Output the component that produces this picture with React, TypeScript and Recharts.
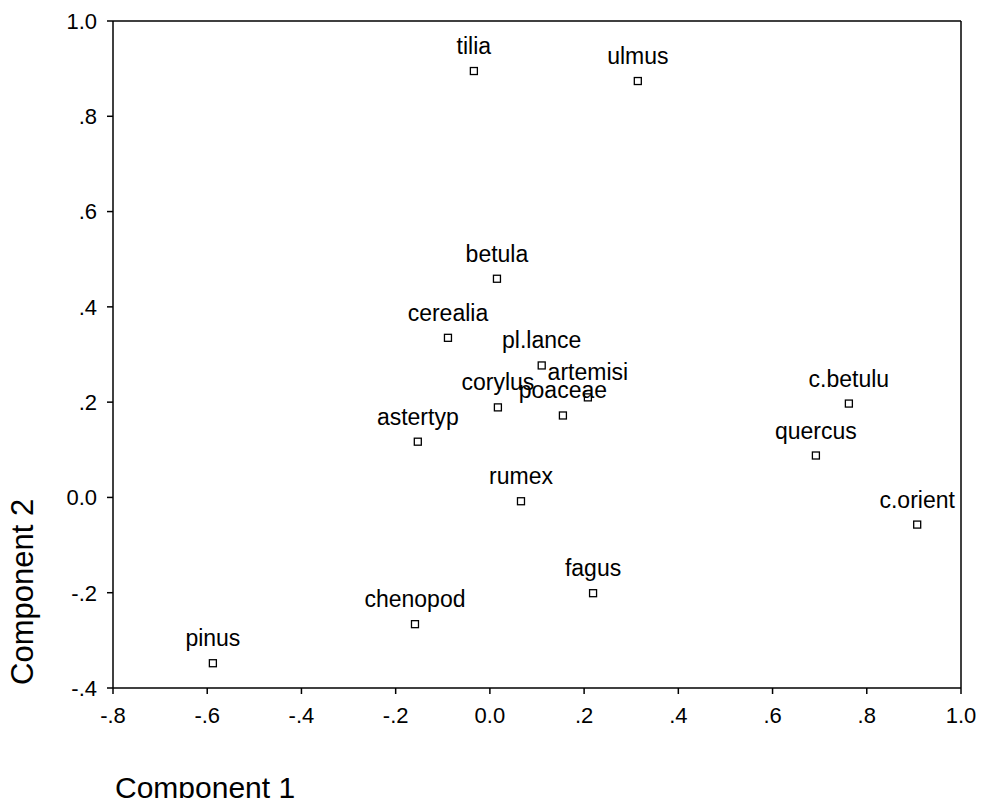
import React from "react";
import { ScatterChart, Scatter, XAxis, YAxis, ReferenceLine } from "recharts";

const names = ["tilia", "ulmus", "betula", "cerealia", "pl.lance", "artemisi", "corylus", "poaceae", "astertyp", "c.betulu", "quercus", "c.orient", "rumex", "fagus", "chenopod", "pinus"];
const comp1 = [-0.034, 0.314, 0.015, -0.089, 0.110, 0.208, 0.017, 0.155, -0.153, 0.762, 0.692, 0.907, 0.066, 0.219, -0.159, -0.588];
const comp2 = [0.895, 0.874, 0.459, 0.335, 0.277, 0.210, 0.189, 0.172, 0.117, 0.197, 0.088, -0.057, -0.008, -0.201, -0.266, -0.348];

const xTicks = [-0.8, -0.6, -0.4, -0.2, 0, 0.2, 0.4, 0.6, 0.8, 1.0];
const yTicks = [-0.4, -0.2, 0, 0.2, 0.4, 0.6, 0.8, 1.0];

const data = names.map((n, i) => ({ name: n, x: comp1[i], y: comp2[i] }));

const FONT = "'Liberation Sans', Arial, sans-serif";

const fmt = (v: number) => {
  const r = Math.round(v * 10) / 10;
  if (r === 0) return "0.0";
  if (r === 1) return "1.0";
  const s = Math.abs(r).toFixed(1).replace(/^0/, "");
  return (r < 0 ? "-" : "") + s;
};

const Marker = (props: any) => {
  const { cx, cy, payload } = props;
  if (cx == null || cy == null) return null;
  return (
    <g>
      <rect x={cx - 3.5} y={cy - 3.5} width={7} height={7} fill="#fff" stroke="#000" strokeWidth={1.3} />
      <text x={cx} y={cy - 17} textAnchor="middle" fontSize={23} fontFamily={FONT} fill="#000">
        {payload.name}
      </text>
    </g>
  );
};

export default function App() {
  return (
    <div style={{ width: 970, height: 790, background: "#fff" }}>
      <ScatterChart width={970} height={790} margin={{ top: 13, right: 17, left: 0, bottom: 0 }}>
        <XAxis
          type="number"
          dataKey="x"
          domain={[-0.8, 1.0]}
          ticks={xTicks}
          tickFormatter={fmt}
          allowDataOverflow
          height={110}
          stroke="#000"
          strokeWidth={1.5}
          tickSize={6}
          tickMargin={13}
          tick={{ fill: "#000", fontSize: 22, fontFamily: FONT }}
          interval={0}
        />
        <YAxis
          type="number"
          dataKey="y"
          domain={[-0.4, 1.0]}
          ticks={yTicks}
          tickFormatter={fmt}
          allowDataOverflow
          width={105}
          stroke="#000"
          strokeWidth={1.5}
          tickSize={6}
          tickMargin={10}
          tick={{ fill: "#000", fontSize: 22, fontFamily: FONT }}
          interval={0}
        />
        <ReferenceLine y={1.0} stroke="#000" strokeWidth={1.5} />
        <ReferenceLine x={1.0} stroke="#000" strokeWidth={1.5} />
        <Scatter data={data} shape={<Marker />} isAnimationActive={false} />
        <text x={107} y={790} fontSize={30} fontFamily={FONT} fill="#000">Component 1</text>
        <text x={25} y={677} fontSize={31} fontFamily={FONT} fill="#000" transform="rotate(-90, 25, 677)">Component 2</text>
      </ScatterChart>
    </div>
  );
}
